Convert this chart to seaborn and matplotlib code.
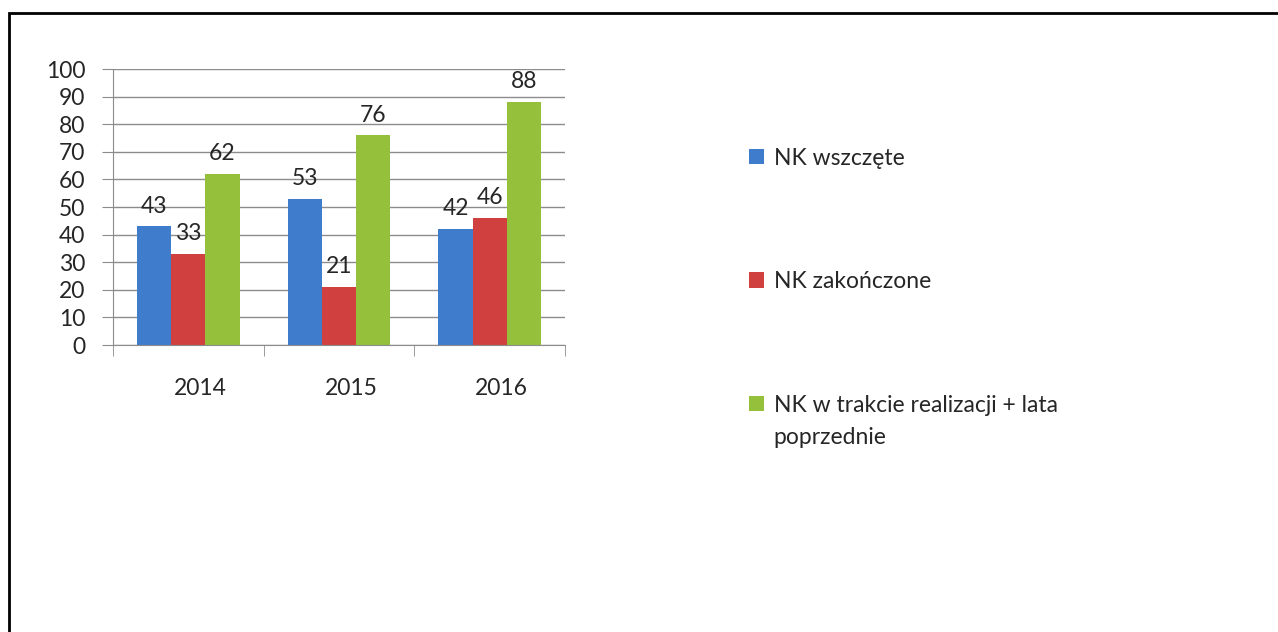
import seaborn as sns
import pandas as pd
import matplotlib.pyplot as plt
import matplotlib.transforms as mtrans
from matplotlib.patches import Rectangle

years = ["2014", "2015", "2016"]
series = ["NK wszczęte", "NK zakończone", "NK w trakcie realizacji + lata"]
series_extra = "poprzednie"
wszczete = [43, 53, 42]
zakonczone = [33, 21, 46]
w_trakcie = [62, 76, 88]
colors = ["#3f7ccc", "#d0403f", "#94c03c"]

df = pd.DataFrame({
    "rok": years * 3,
    "seria": [series[0]] * 3 + [series[1]] * 3 + [series[2]] * 3,
    "liczba": wszczete + zakonczone + w_trakcie,
})

sns.set_style("white")
plt.rcParams["font.family"] = ["Lato", "DejaVu Sans"]
FS = 16.5

fig = plt.figure(figsize=(12.78, 6.32), dpi=100)
ax = fig.add_axes([113 / 1278, 1 - 345 / 632, (565 - 113) / 1278, (345 - 69) / 632])

sns.barplot(data=df, x="rok", y="liczba", hue="seria", palette=colors,
            width=0.68, ax=ax, saturation=1, edgecolor="none")

for c in ax.containers:
    ax.bar_label(c, fontsize=FS, padding=7)

ax.set_xlim(-0.5, 2.5)
ax.set_ylim(0, 100)
ax.set_yticks(range(0, 101, 10))
ax.set_xlabel("")
ax.set_ylabel("")
ax.yaxis.grid(True, color="#8c8c8c", linewidth=1)
ax.set_axisbelow(True)
for s in ["top", "right"]:
    ax.spines[s].set_visible(False)
for s in ["left", "bottom"]:
    ax.spines[s].set_color("#8c8c8c")
ax.tick_params(axis="y", length=8, color="#8c8c8c", labelsize=FS, pad=12, left=True)
ax.tick_params(axis="x", which="major", length=0, labelsize=FS, pad=24)
ax.set_xticks([-0.5, 0.5, 1.5, 2.5], minor=True)
ax.tick_params(axis="x", which="minor", length=8, color="#8c8c8c", direction="out", bottom=True)
shift = mtrans.ScaledTranslation(0.12, 0, fig.dpi_scale_trans)
for lab in ax.get_xticklabels():
    lab.set_transform(lab.get_transform() + shift)

handles, labels = ax.get_legend_handles_labels()
leg = ax.legend(handles, labels, loc="upper left", bbox_to_anchor=(728 / 1278, 1 - 127 / 632),
                bbox_transform=fig.transFigure, frameon=False, fontsize=FS,
                handlelength=0.65, handleheight=0.65, handletextpad=0.45, labelspacing=4.47)

# second line of the last legend entry, below its first line
fig.canvas.draw()
bb = leg.get_texts()[2].get_window_extent().transformed(fig.transFigure.inverted())
fig.text(bb.x0, bb.y0 - 32 / 632, series_extra, fontsize=FS, va="bottom", ha="left")

fig.patches.append(Rectangle((9 / 1278, -0.1), 1.2, 1.1 - 13 / 632, transform=fig.transFigure,
                             fill=False, edgecolor="black", linewidth=2))

fig.savefig("out.png", dpi=100)
